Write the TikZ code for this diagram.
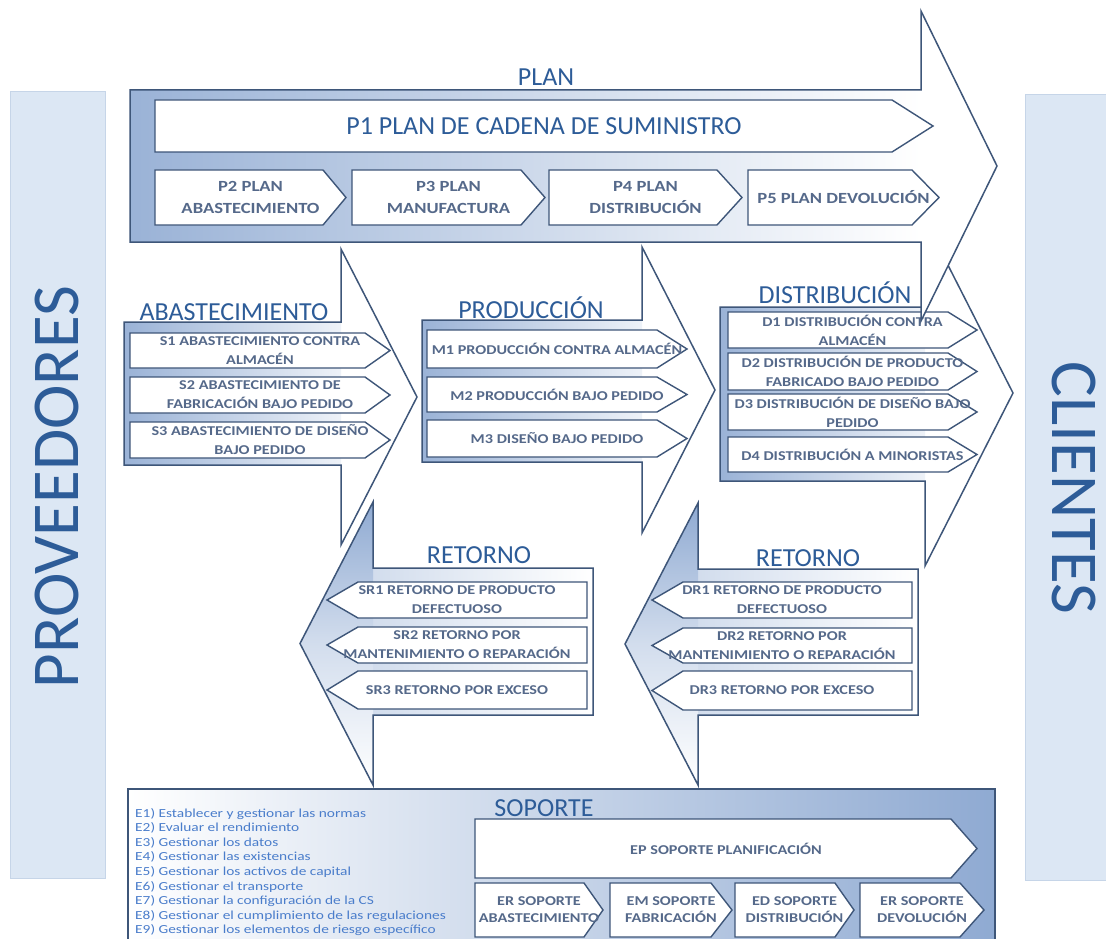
\documentclass[tikz,border=0pt]{standalone}
\usepackage{fontspec}
\setmainfont{Carlito}
\newfontfamily\widefont[FakeStretch=1.2]{Carlito}
\newfontfamily\listfont[FakeStretch=1.25]{Carlito}

\definecolor{edge}{HTML}{3E5679}
\definecolor{ttl}{HTML}{2D5C98}
\definecolor{lbl}{HTML}{55698A}
\definecolor{elist}{HTML}{4A7DCB}
\definecolor{side}{HTML}{DCE7F4}
\definecolor{sideline}{HTML}{C6D5E8}
\definecolor{tint}{HTML}{8FAAD2}

% right-pointing chevron box: name, x0, y0, x1 (end of straight part), y1, tip x, text style, text
\newcommand\chevR[8]{%
  \draw[chev] (#2,#3) -- (#4,#3) -- (#6,{(#3+#5)/2}) -- (#4,#5) -- (#2,#5) -- cycle;
  \node[#7] (#1) at ({(#2+#6)/2},{(#3+#5)/2}) {#8};
}
% left-pointing chevron box: name, tip x, x0 (start of straight part), y0, x1, y1, text style, text
\newcommand\chevL[8]{%
  \draw[chev] (#3,#4) -- (#5,#4) -- (#5,#6) -- (#3,#6) -- (#2,{(#4+#6)/2}) -- cycle;
  \node[#7] (#1) at ({(#2+#5)/2},{(#4+#6)/2}) {#8};
}
% big right block arrow: x0, y0, x1, y1 (body), head top, head bottom, tip x, body shading
\newcommand\bigR[8]{%
  \fill[white] (#1,#2) -- (#3,#2) -- (#3,#5) -- (#7,{(#5+#6)/2}) -- (#3,#6) -- (#3,#4) -- (#1,#4) -- cycle;
  \shade[#8] (#1,#2) rectangle (#3,#4);
  \draw[outline] (#1,#2) -- (#3,#2) -- (#3,#5) -- (#7,{(#5+#6)/2}) -- (#3,#6) -- (#3,#4) -- (#1,#4) -- cycle;
}
% big left block arrow: tip x, x0 (head back), y0, x1, y1 (body), head top, head bottom, body shading
\newcommand\bigL[8]{%
  \fill[white] (#2,#3) -- (#2,#6) -- (#1,{(#6+#7)/2}) -- (#2,#7) -- (#2,#5) -- (#4,#5) -- (#4,#3) -- cycle;
  \shade[#8] (#2,#3) rectangle (#4,#5);
  \shade[top color=tint, bottom color=white, middle color=tint!40] (#2,#6) -- (#1,{(#6+#7)/2}) -- (#2,#7) -- cycle;
  \draw[outline] (#2,#3) -- (#2,#6) -- (#1,{(#6+#7)/2}) -- (#2,#7) -- (#2,#5) -- (#4,#5) -- (#4,#3) -- cycle;
}

\begin{document}
\begin{tikzpicture}[x=1pt,y=-1pt,
  outline/.style={draw=edge, line width=1.5pt, line join=miter},
  chev/.style={draw=edge, line width=1.4pt, fill=white, line join=miter},
  title/.style={text=ttl, font=\fontsize{26}{30}\selectfont, inner sep=0pt, anchor=base},
  bigtext/.style={text=ttl, font=\fontsize{26}{30}\selectfont, inner sep=0pt},
  ptext/.style={text=lbl, font=\widefont\bfseries\fontsize{15.5}{22}\selectfont, align=center, inner sep=0pt},
  stext/.style={text=lbl, font=\widefont\bfseries\fontsize{13.5}{19}\selectfont, align=center, inner sep=0pt},
  etext/.style={text=lbl, font=\widefont\bfseries\fontsize{13.5}{17}\selectfont, align=center, inner sep=0pt},
  listtext/.style={text=elist, font=\listfont\fontsize{12.3}{14}\selectfont, inner sep=0pt, anchor=base west},
  sidetext/.style={text=ttl, font=\fontsize{67}{70}\selectfont, inner sep=0pt},
  plainshade/.style={left color=tint!90, middle color=tint!28, right color=white},
  boxshade/.style={left color=tint!90, middle color=tint!30, right color=tint!15},
  retshade/.style={left color=tint!40, right color=white}
]
\useasboundingbox (0,0) rectangle (1106,939);
\fill[white] (0,0) rectangle (1106,939);

% side columns
\fill[side] (10,92) rectangle (105,878);
\draw[sideline, line width=1pt] (10,92) rectangle (105,878);
\node[sidetext, rotate=90] (prov) at (57,487) {PROVEEDORES};
\fill[side] (1025,95) rectangle (1112,880);
\draw[sideline, line width=1pt] (1025,95) rectangle (1112,880);
\node[sidetext, rotate=-90] (cli) at (1074,488) {CLIENTES};

% DISTRIBUCION
\bigR{720}{307}{925}{481}{220}{566}{1013}{boxshade}
\node[title] (tdist) at (835,303) {DISTRIBUCIÓN};
\chevR{d1}{728}{312}{948}{348}{977}{stext}{D1 DISTRIBUCIÓN CONTRA\\ALMACÉN}
\chevR{d2}{728}{353}{948}{390}{977}{stext}{D2 DISTRIBUCIÓN DE PRODUCTO\\FABRICADO BAJO PEDIDO}
\chevR{d3}{728}{394}{948}{430}{977}{stext}{D3 DISTRIBUCIÓN DE DISEÑO BAJO\\PEDIDO}
\chevR{d4}{728}{437}{948}{472}{977}{stext}{D4 DISTRIBUCIÓN A MINORISTAS}

% PLAN
\bigR{130}{90}{921}{242}{11}{321}{997}{plainshade}
\node[title] (tplan) at (546,86) {PLAN};
\chevR{p1}{155}{100}{892}{152}{933}{bigtext}{P1 PLAN DE CADENA DE SUMINISTRO}
\chevR{p2}{155}{170}{323}{225}{346}{ptext}{P2 PLAN\\ABASTECIMIENTO}
\chevR{p3}{352}{170}{521}{225}{545}{ptext}{P3 PLAN\\MANUFACTURA}
\chevR{p4}{549}{170}{717}{225}{742}{ptext}{P4 PLAN\\DISTRIBUCIÓN}
\chevR{p5}{748}{170}{912}{225}{939}{ptext}{P5 PLAN DEVOLUCIÓN}

% ABASTECIMIENTO
\bigR{124}{322}{341}{465}{249}{545}{417}{boxshade}
\node[title] (tabas) at (234,320) {ABASTECIMIENTO};
\chevR{s1}{130}{333}{365}{368}{390}{stext}{S1 ABASTECIMIENTO CONTRA\\ALMACÉN}
\chevR{s2}{130}{377}{365}{413}{390}{stext}{S2 ABASTECIMIENTO DE\\FABRICACIÓN BAJO PEDIDO}
\chevR{s3}{130}{422}{365}{458}{390}{stext}{S3 ABASTECIMIENTO DE DISEÑO\\BAJO PEDIDO}

% PRODUCCION
\bigR{422}{320}{642}{462}{247}{533}{715}{boxshade}
\node[title] (tprod) at (531,318) {PRODUCCIÓN};
\chevR{m1}{427}{330}{657}{368}{687}{stext}{M1 PRODUCCIÓN CONTRA ALMACÉN}
\chevR{m2}{427}{377}{657}{412}{687}{stext}{M2 PRODUCCIÓN BAJO PEDIDO}
\chevR{m3}{427}{420}{657}{457}{687}{stext}{M3 DISEÑO BAJO PEDIDO}

% RETORNO (abastecimiento)
\bigL{300}{373}{568}{593}{715}{502}{785}{retshade}
\node[title] (tret1) at (479,563) {RETORNO};
\chevL{sr1}{327}{358}{582}{587}{618}{stext}{SR1 RETORNO DE PRODUCTO\\DEFECTUOSO}
\chevL{sr2}{327}{358}{627}{587}{663}{stext}{SR2 RETORNO POR\\MANTENIMIENTO O REPARACIÓN}
\chevL{sr3}{327}{358}{671}{587}{709}{stext}{SR3 RETORNO POR EXCESO}

% RETORNO (distribucion)
\bigL{625}{698}{569}{918}{715}{503}{785}{retshade}
\node[title] (tret2) at (808,566) {RETORNO};
\chevL{dr1}{652}{683}{582}{912}{618}{stext}{DR1 RETORNO DE PRODUCTO\\DEFECTUOSO}
\chevL{dr2}{652}{683}{628}{912}{663}{stext}{DR2 RETORNO POR\\MANTENIMIENTO O REPARACIÓN}
\chevL{dr3}{652}{683}{671}{912}{710}{stext}{DR3 RETORNO POR EXCESO}

% SOPORTE
\shade[left color=white, middle color=tint!35, right color=tint] (128,789) rectangle (995,945);
\draw[outline] (128,945) -- (128,789) -- (995,789) -- (995,945);
\node[title] (tsop) at (544,816) {SOPORTE};
\chevR{ep}{475}{819}{951}{878}{977}{etext}{EP SOPORTE PLANIFICACIÓN}
\chevR{er1}{475}{883}{584}{937}{603}{etext}{ER SOPORTE\\ABASTECIMIENTO}
\chevR{em}{610}{883}{711}{937}{732}{etext}{EM SOPORTE\\FABRICACIÓN}
\chevR{ed}{735}{883}{835}{937}{854}{etext}{ED SOPORTE\\DISTRIBUCIÓN}
\chevR{er2}{860}{883}{960}{937}{984}{etext}{ER SOPORTE\\DEVOLUCIÓN}

\foreach \t [count=\i] in {Establecer y gestionar las normas, Evaluar el rendimiento,
  Gestionar los datos, Gestionar las existencias, Gestionar los activos de capital,
  Gestionar el transporte, Gestionar la configuración de la CS,
  Gestionar el cumplimiento de las regulaciones, Gestionar los elementos de riesgo específico}
  \node[listtext] (e\i) at (135,{817+(\i-1)*14.6}) {E\i) \t};
\end{tikzpicture}
\end{document}
